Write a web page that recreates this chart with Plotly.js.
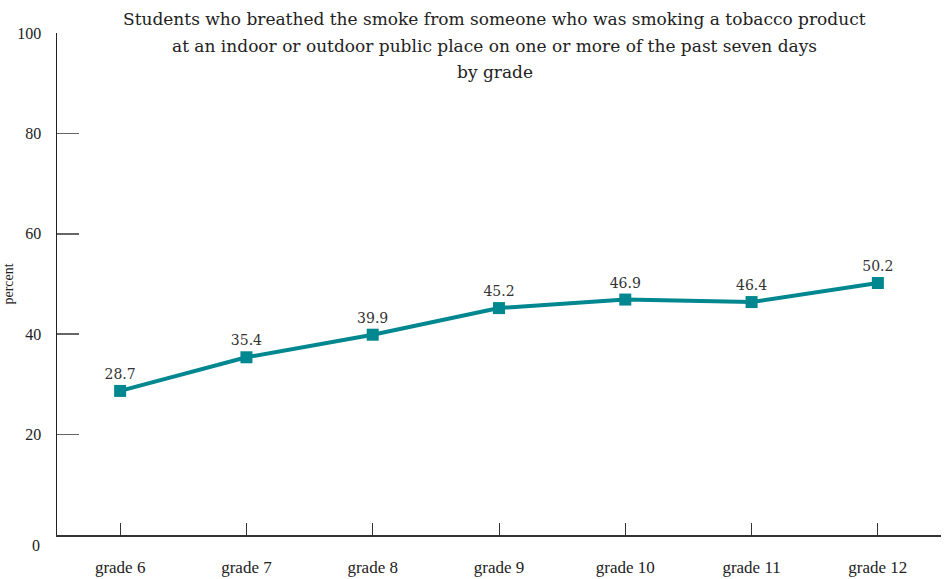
<!DOCTYPE html>
<html>
<head>
<meta charset="utf-8">
<script src="https://cdn.plot.ly/plotly-3.0.1.min.js"></script>
<style>html,body{margin:0;padding:0;background:#fff;}#chart{width:946px;height:579px;}</style>
</head>
<body>
<div id="chart"></div>
<script>
const categories = ["grade 6", "grade 7", "grade 8", "grade 9", "grade 10", "grade 11", "grade 12"];
const values = [28.7, 35.4, 39.9, 45.2, 46.9, 46.4, 50.2];
const yTicks = [0, 20, 40, 60, 80, 100];
const titleLines = [
  "Students who breathed the smoke from someone who was smoking a tobacco product",
  "at an indoor or outdoor public place on one or more of the past seven days",
  "by grade"
];

const font = "Liberation Serif";
const titleFont = "DejaVu Serif";

const trace = {
  x: categories,
  y: values,
  type: "scatter",
  mode: "lines+markers+text",
  text: values.map(v => v.toFixed(1)),
  textposition: "top center",
  textfont: {family: titleFont, size: 14, color: "#333"},
  line: {color: "#00878F", width: 4},
  marker: {symbol: "square", size: 12, color: "#00878F"},
  cliponaxis: false,
  hoverinfo: "none"
};

const titleShifts = [14, -13, -39];
const titleAnns = titleLines.map((t, i) => ({
  text: t, xref: "paper", yref: "paper",
  x: 0.495, y: 1, xanchor: "center", yanchor: "middle", yshift: titleShifts[i],
  showarrow: false,
  font: {family: titleFont, size: 17, color: "#222"}
}));

const layout = {
  width: 946, height: 579,
  margin: {l: 57, r: 5, t: 33, b: 44},
  paper_bgcolor: "#fff", plot_bgcolor: "#fff",
  font: {family: font, color: "#222"},
  showlegend: false,
  annotations: titleAnns.concat([
    {
      text: "0", xref: "paper", yref: "paper", x: 0, y: 0,
      xanchor: "right", yanchor: "middle", xshift: -15, yshift: -10,
      showarrow: false, font: {family: font, size: 16, color: "#222"}
    }
  ]),
  xaxis: {
    type: "category",
    range: [-0.5, 6.5],
    showgrid: false, zeroline: false,
    showline: true, linecolor: "#333", linewidth: 1.5,
    ticks: "inside", ticklen: 12, tickcolor: "#333", tickwidth: 1,
    tickfont: {family: font, size: 17, color: "#222"},
    ticklabelstandoff: 16
  },
  yaxis: {
    range: [0, 100],
    tickvals: yTicks.slice(1),
    showgrid: false, zeroline: false,
    showline: true, linecolor: "#222", linewidth: 1.5,
    ticks: "inside", ticklen: 22, tickcolor: "#666", tickwidth: 1.5,
    tickfont: {family: font, size: 16, color: "#222"},
    ticklabelstandoff: 11,
    title: {text: "percent", font: {family: font, size: 14, color: "#222"}, standoff: 0}
  }
};

Plotly.newPlot("chart", [trace], layout, {displayModeBar: false, staticPlot: true});
</script>
</body>
</html>
